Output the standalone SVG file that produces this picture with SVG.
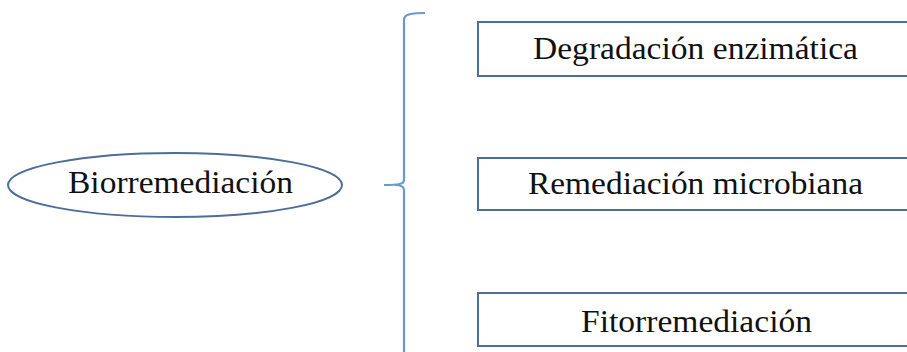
<svg xmlns="http://www.w3.org/2000/svg" width="907" height="352" viewBox="0 0 907 352">
<style>
.box{fill:#fff;stroke:#4f6d96;stroke-width:2}
.t{font-family:"Liberation Serif","Times New Roman",serif;font-size:32px;fill:#111}
.br{fill:none;stroke:#6a98d4;stroke-width:2.2}
</style>
<rect width="907" height="352" fill="#fff"/>
<g id="biorremediacion">
<ellipse class="box" cx="175" cy="185" rx="167" ry="32"/>
<text class="t" x="68" y="193" textLength="225" lengthAdjust="spacingAndGlyphs">Biorremediación</text>
</g>
<g id="connectors">
<path class="br" d="M425,13 C412,13 404,14 404,20 L404,180 C404,184 399,185 384,185 M404,190 C404,186 399,185 395,185 M404,190 L404,352"/>
</g>
<g id="degradacion">
<rect class="box" x="478" y="22" width="440" height="54"/>
<text class="t" x="533" y="59" textLength="325" lengthAdjust="spacingAndGlyphs">Degradación enzimática</text>
</g>
<g id="remediacion">
<rect class="box" x="478" y="158" width="440" height="52"/>
<text class="t" x="528" y="194" textLength="335" lengthAdjust="spacingAndGlyphs">Remediación microbiana</text>
</g>
<g id="fitorremediacion">
<rect class="box" x="478" y="293" width="440" height="53"/>
<text class="t" x="581" y="332" textLength="231" lengthAdjust="spacingAndGlyphs">Fitorremediación</text>
</g>
</svg>
